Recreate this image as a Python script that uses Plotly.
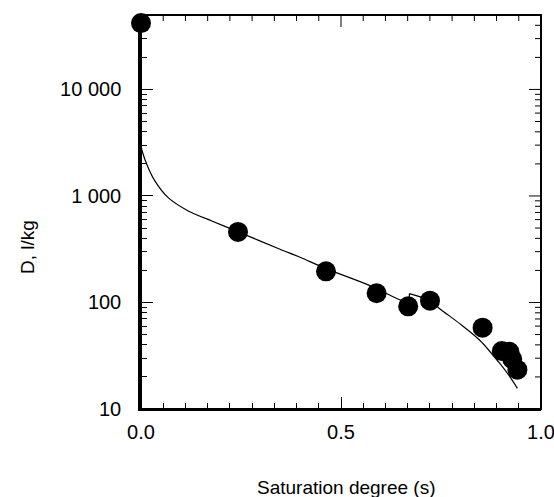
import math
import plotly.graph_objects as go

# Measured data points
sat_points = [0.0, 0.2425, 0.4625, 0.589, 0.668, 0.7225, 0.854, 0.902, 0.921, 0.928, 0.941]
d_points = [42000, 460, 196, 122, 92, 104, 58, 35, 34.5, 29.5, 23.4]

# Fitted curve; None separates the pieces around the jump
sat_curve = [0.0, 0.003, 0.018, 0.035, 0.068, 0.118, 0.177, 0.2425,
             0.3475, 0.3975, 0.4625, 0.5725, 0.652, 0.671, None,
             0.671, 0.671, None,
             0.671, 0.7225, 0.7475, 0.7975, 0.8475, 0.8975, 0.9225, 0.941]
d_curve = [3000, 2630, 1840, 1380, 964, 724, 583, 462,
           316, 266, 208, 144, 104, 100, None,
           100, 121, None,
           121, 104, 87, 63, 44, 26.6, 20, 15.6]

x_tickvals = [0.0, 0.5, 1.0]
x_ticktext = ["0.0", "0.5", "1.0"]
y_tickvals = [10, 100, 1000, 10000]
y_ticktext = ["10", "100", "1 000", "10 000"]

FONT = "Liberation Sans, Arial, sans-serif"
W, H = 554, 497
L, R, T, B = 141, 13, 15, 88
pw, ph = W - L - R, H - T - B
Y_RANGE = [1, math.log10(50000)]

# split the curve into its pieces
pieces, cur = [], ([], [])
for sx, sy in zip(sat_curve, d_curve):
    if sx is None:
        pieces.append(cur)
        cur = ([], [])
    else:
        cur[0].append(sx)
        cur[1].append(sy)
pieces.append(cur)

fig = go.Figure()
for px_, py_ in pieces:
    fig.add_trace(go.Scatter(x=px_, y=py_, mode="lines",
                             line=dict(color="black", width=1.2,
                                       shape="spline" if len(px_) > 2 else "linear",
                                       smoothing=0.8),
                             showlegend=False))
fig.add_trace(go.Scatter(x=sat_points, y=d_points, mode="markers",
                         marker=dict(color="black", size=20), cliponaxis=False,
                         showlegend=False))

# frame (top/right) and its inward ticks
shapes = [dict(type="rect", xref="paper", yref="paper", x0=0, x1=1, y0=0, y1=1,
               line=dict(color="black", width=2))]
for k in range(19):
    xv = k / 18
    ln = 12 if k % 9 == 0 else 6
    shapes.append(dict(type="line", xref="x", yref="paper", ysizemode="pixel",
                       yanchor=1, x0=xv, x1=xv, y0=0, y1=-ln,
                       line=dict(color="black", width=1)))
for d in range(1, 5):
    for m in range(1, 10):
        lv = math.log10(m * 10 ** d)
        if lv > Y_RANGE[1] + 1e-9:
            continue
        yp = (lv - Y_RANGE[0]) / (Y_RANGE[1] - Y_RANGE[0])
        ln = 12 if m == 1 else 6
        shapes.append(dict(type="line", xref="paper", yref="paper", xsizemode="pixel",
                           xanchor=1, x0=0, x1=-ln, y0=yp, y1=yp,
                           line=dict(color="black", width=1)))

tick_common = dict(ticks="inside", ticklen=12, tickwidth=1.2, tickcolor="black",
                   showline=True, linecolor="black", showgrid=False, zeroline=False)

fig.update_layout(
    width=W, height=H,
    margin=dict(l=L, r=R, t=T, b=B, autoexpand=False),
    paper_bgcolor="white", plot_bgcolor="white",
    font=dict(family=FONT, size=20, color="black"),
    xaxis=dict(range=[0, 1], tickvals=x_tickvals, ticktext=x_ticktext,
               linewidth=2, ticklabelstandoff=4, ticklabeloverflow="allow",
               minor=dict(dtick=1/18, tick0=0, ticks="inside", ticklen=6,
                          tickwidth=1, tickcolor="black", showgrid=False),
               **tick_common),
    yaxis=dict(type="log", range=Y_RANGE, tickvals=y_tickvals, ticktext=y_ticktext,
               linewidth=2.5, ticklabelstandoff=13, ticklabeloverflow="allow",
               minor=dict(dtick="D1", ticks="inside", ticklen=6,
                          tickwidth=1, tickcolor="black", showgrid=False),
               **tick_common),
    shapes=shapes,
    annotations=[
        dict(text="Saturation degree (s)", xref="paper", yref="paper",
             x=(346 - L) / pw, y=-(487 - (H - B)) / ph,
             xanchor="center", yanchor="middle", showarrow=False, font=dict(size=19)),
        dict(text="D, l/kg", textangle=-90, xref="paper", yref="paper",
             x=(27 - L) / pw, y=(H - B - 247) / ph,
             xanchor="center", yanchor="middle", showarrow=False, font=dict(size=19)),
    ],
)

fig.write_html("out.html", config={"displayModeBar": False},
               post_script="document.body.style.margin='0px';document.body.style.overflow='hidden';")
